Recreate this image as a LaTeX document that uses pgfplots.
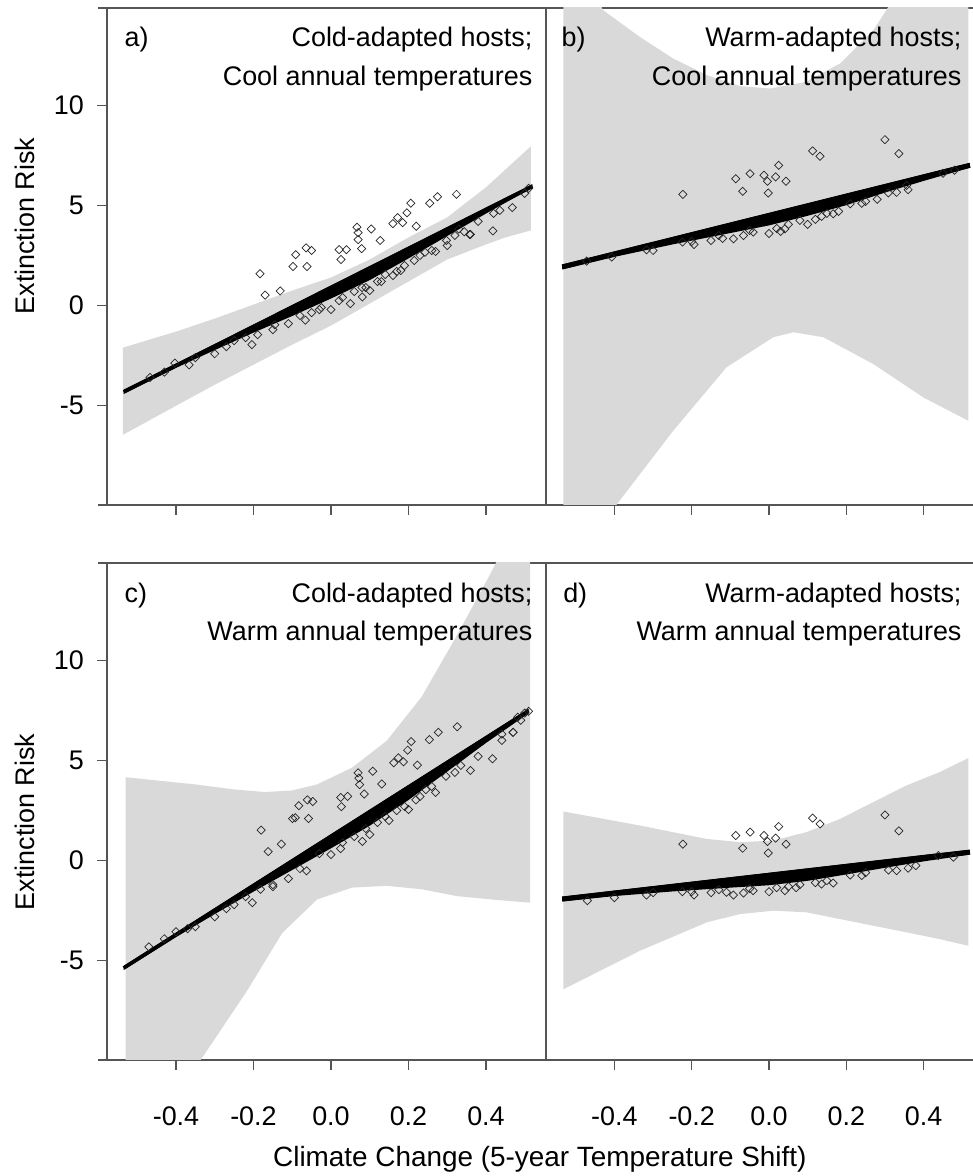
\documentclass[border=0pt]{standalone}
\usepackage{fontspec}
\setmainfont{Liberation Sans}
\usepackage{pgfplots}
\pgfplotsset{compat=1.18}
\definecolor{band}{RGB}{217,217,217}
\definecolor{axl}{RGB}{85,85,85}
\newcommand{\fs}{\fontsize{27}{32}\selectfont}
\pgfplotsset{
 panel/.style={
  scale only axis, width=439bp, height=497bp,
  xmin=-0.578, xmax=0.555, ymin=-9.95, ymax=14.85,
  axis line style={axl, line width=1.3bp},
  tick style={axl, line width=1.3bp},
  major tick length=10bp, tick align=outside,
  xtick={-0.4,-0.2,0,0.2,0.4}, xtick pos=left, ytick pos=left,
  ytick={-5,0,5,10}, yticklabels={-5,0,5,10},
  xticklabels={-0.4,-0.2,0.0,0.2,0.4},
  tick label style={font=\fs, inner sep=0pt},
  yticklabel style={anchor=east, xshift=-13bp},
  xticklabel style={anchor=north, yshift=-37bp},
  ylabel style={font=\fs},
  xlabel style={font=\fontsize{28}{33}\selectfont},
 },
 rightpanel/.style={width=430bp, xmin=-0.577, xmax=0.5356, ytick=\empty},
 toppanel/.style={xticklabels={,,,,}},
 bandst/.style={fill=band, draw=none},
 cloud/.style={fill=black, draw=none},
 fitline/.style={black, line width=3.5bp},
 pts/.style={only marks, mark=square, mark size=2.9bp,
   mark options={rotate=45, draw=black!85, line width=0.7bp, fill=none}},
}
\begin{document}
\begin{tikzpicture}[x=1bp,y=1bp]
% ---------------- a ----------------
\begin{axis}[panel, toppanel, at={(107bp,671bp)}, anchor=south west,
  ylabel={Extinction Risk}, ylabel style={at={(rel axis cs:-0.187,0.561)}, anchor=center}]
\addplot[bandst] coordinates {(-0.537,-2.1) (-0.4,-1.3) (-0.3,-0.65) (-0.2,0.05) (-0.1,0.75) (0,1.4) (0.1,2.3) (0.2,3.4) (0.3,4.4) (0.4,5.9) (0.516,7.95)
 (0.516,3.75) (0.45,3.4) (0.4,3.05) (0.3,2.3) (0.2,1.2) (0.1,0.1) (0,-1.0) (-0.1,-1.95) (-0.2,-2.95) (-0.3,-3.95) (-0.4,-5.0) (-0.537,-6.45)};
\addplot[cloud] coordinates {(-0.535,-4.2) (0.52,6.06) (0.52,5.86) (0.45,5.13) (0.4,4.59) (0.3,3.47) (0.2,2.35) (0.1,1.27) (0,0.35) (-0.1,-0.52) (-0.2,-1.35) (-0.3,-2.22) (-0.4,-3.11) (-0.535,-4.41)};
\addplot[fitline] coordinates {(-0.535,-4.306) (0.52,5.96)};
\addplot[pts] coordinates {(-0.15,-1.2) (-0.08,-0.5) (-0.03,-0.2) (0.03,0.4) (0.06,0.7) (0.12,1.2) (0.14,1.55) (0.19,2.0) (0.23,2.5) (0.26,2.75) (0.32,3.5) (0.38,4.2) (0.42,4.6) (-0.22,-1.6) (-0.27,-2.05) (-0.05,-0.35) (0.09,0.9) (0.17,1.7)};
\addplot[pts] coordinates {(-0.066,-0.73) (-0.145,-0.96) (0.021,0.25) (-0.025,-0.1) (0.081,0.43) (0.08,0.9) (0.13,1.2) (0.243,2.66) (0.215,2.25) (0.298,3.25) (0.33,3.82) (0.36,3.55) (0.418,3.73) (-0.366,-2.96) (-0.403,-2.87) (-0.467,-3.59) (-0.43,-3.32) (-0.204,-1.95) (-0.189,-1.45) (-0.11,-0.9) (0.05,0.1) (0.16,1.5) (0.27,2.7) (0.436,4.75) (0.468,4.89) (0.5,5.6) (0.51,5.85) (-0.25,-1.75) (-0.3,-2.4) (-0.35,-2.6) (0.1,0.75) (0.0,-0.2) (0.18,1.75) (0.3,3.0) (0.344,3.68) (0.358,3.55)};
\addplot[pts] coordinates {(-0.183,1.59) (-0.170,0.52) (-0.131,0.73) (-0.098,1.95) (-0.091,2.54) (-0.064,2.88) (-0.050,2.75) (-0.062,1.95) (0.021,2.79) (0.026,2.30) (0.040,2.79) (0.067,3.91) (0.070,3.64) (0.070,3.29) (0.079,2.84) (0.104,3.82) (0.127,3.25) (0.160,4.09) (0.172,4.39) (0.185,4.14) (0.196,4.63) (0.206,5.11) (0.220,3.96) (0.255,5.11) (0.275,5.43) (0.324,5.55)};
\node[font=\fs, anchor=base west] at (rel axis cs:0.032,0.9215) {a)};
\node[font=\fs, anchor=base east] at (rel axis cs:0.977,0.9215) {Cold-adapted hosts;};
\node[font=\fs, anchor=base east] at (rel axis cs:0.977,0.845) {Cool annual temperatures};
\end{axis}
% ---------------- b ----------------
\begin{axis}[panel, toppanel, rightpanel, at={(546bp,671bp)}, anchor=south west]
\addplot[bandst] coordinates {(-0.532,20) (-0.48,17) (-0.43,14.75) (-0.334,13.4) (-0.248,12.33) (-0.161,11.5) (-0.075,10.95) (0.003,10.83) (0.097,11.17) (0.184,12.08) (0.27,13.75) (0.304,14.75) (0.4,18) (0.516,21)
 (0.516,-5.75) (0.399,-4.58) (0.27,-2.92) (0.141,-1.58) (0.063,-1.33) (0.011,-1.58) (-0.11,-3.08) (-0.248,-6.25) (-0.394,-9.92) (-0.45,-12) (-0.532,-16)};
\addplot[cloud] coordinates {(-0.535,2.05) (0.52,7.12) (0.52,6.88) (0.4,6.22) (0.3,5.64) (0.2,5.01) (0.1,4.48) (0,4.0) (-0.1,3.62) (-0.25,3.05) (-0.4,2.43) (-0.535,1.81)};
\addplot[fitline, line width=5bp] coordinates {(-0.535,1.927) (0.52,7.001)};
\addplot[pts] coordinates {(-0.3,2.75) (-0.2,3.2) (-0.05,3.75) (0.05,4.05) (0.08,4.25) (0.15,4.6) (0.24,5.1) (0.33,5.65) (-0.13,3.5) (0.12,4.3) (0.02,3.85)};
\addplot[pts] coordinates {(-0.194,3.05) (-0.224,3.17) (-0.092,3.33) (-0.066,3.5) (-0.041,3.67) (0.041,3.83) (0.136,4.45) (0.166,4.58) (0.21,5.08) (-0.317,2.78) (-0.407,2.42) (-0.472,2.22) (0.309,5.62) (0.36,5.78) (0.356,6.0) (0.0,3.6) (0.03,3.7) (-0.12,3.35) (0.1,4.05) (0.25,5.2) (0.45,6.6) (0.48,6.75) (-0.15,3.25) (0.18,4.7) (0.28,5.3)};
\addplot[pts] coordinates {(-0.223,5.55) (-0.086,6.33) (-0.049,6.58) (-0.068,5.70) (-0.013,6.50) (-0.004,6.20) (0.017,6.42) (0.025,7.00) (0.044,6.20) (-0.002,5.62) (0.113,7.72) (0.132,7.45) (0.300,8.28) (0.336,7.58)};
\node[font=\fs, anchor=base west] at (rel axis cs:0.028,0.9215) {b)};
\node[font=\fs, anchor=base east] at (rel axis cs:0.9744,0.9215) {Warm-adapted hosts;};
\node[font=\fs, anchor=base east] at (rel axis cs:0.9744,0.845) {Cool annual temperatures};
\end{axis}
% ---------------- c ----------------
\begin{axis}[panel, at={(107bp,116bp)}, anchor=south west,
  ylabel={Extinction Risk}, ylabel style={at={(rel axis cs:-0.187,0.479)}, anchor=center},
  xlabel={Climate Change (5-year Temperature Shift)}, xlabel style={at={(rel axis cs:0.986,-0.2133)}, anchor=base}]
\addplot[bandst] coordinates {(-0.53,4.16) (-0.45,4.0) (-0.35,3.8) (-0.25,3.55) (-0.17,3.42) (-0.1,3.5) (-0.036,3.8) (0.054,4.63) (0.144,5.98) (0.234,8.17) (0.324,11.2) (0.414,14.4) (0.45,15.8) (0.514,18)
 (0.514,-2.1) (0.414,-1.94) (0.324,-1.77) (0.234,-1.43) (0.144,-1.26) (0.054,-1.35) (-0.036,-1.94) (-0.126,-3.62) (-0.216,-6.48) (-0.35,-10.35) (-0.45,-13) (-0.53,-16)};
\addplot[cloud] coordinates {(-0.535,-5.25) (0.51,7.58) (0.51,7.35) (0.45,6.54) (0.4,5.87) (0.3,4.44) (0.2,3.02) (0.1,1.74) (0,0.61) (-0.1,-0.47) (-0.2,-1.55) (-0.3,-2.67) (-0.4,-3.82) (-0.535,-5.46)};
\addplot[fitline] coordinates {(-0.535,-5.36) (0.51,7.473)};
\addplot[pts] coordinates {(-0.15,-1.3) (-0.08,-0.4) (-0.03,0.35) (0.03,0.9) (0.06,1.2) (0.12,1.9) (0.14,2.2) (0.19,2.7) (0.23,3.2) (0.26,3.7) (0.32,4.4) (0.38,5.2) (-0.22,-1.8) (-0.27,-2.4) (0.09,1.6) (0.17,2.5)};
\addplot[pts] coordinates {(-0.47,-4.3) (-0.43,-3.9) (-0.4,-3.55) (-0.37,-3.4) (-0.35,-3.3) (-0.3,-2.8) (-0.25,-2.2) (-0.203,-2.10) (-0.182,-1.43) (-0.15,-1.2) (-0.11,-0.9) (-0.063,-0.51) (0.0,0.3) (0.025,0.6) (0.081,0.96) (0.1,1.3) (0.15,2.0) (0.2,2.55) (0.219,3.03) (0.245,3.54) (0.27,3.4) (0.297,4.21) (0.335,4.75) (0.36,4.5) (0.417,5.08) (0.441,6.0) (0.47,6.4) (0.49,7.0) (0.51,7.45) (0.482,7.15) (0.5,7.36)};
\addplot[pts] coordinates {(-0.180,1.52) (-0.162,0.45) (-0.128,0.82) (-0.099,2.10) (-0.092,2.14) (-0.083,2.74) (-0.061,3.03) (-0.047,2.95) (-0.058,2.10) (0.025,3.15) (0.027,2.69) (0.043,3.20) (0.070,4.38) (0.072,4.12) (0.074,3.79) (0.086,3.32) (0.108,4.46) (0.131,3.82) (0.162,4.88) (0.174,5.13) (0.187,4.93) (0.198,5.51) (0.207,5.94) (0.223,4.76) (0.254,6.04) (0.277,6.40) (0.326,6.68) (0.441,6.31) (0.470,6.40)};
\node[font=\fs, anchor=base west] at (rel axis cs:0.032,0.9215) {c)};
\node[font=\fs, anchor=base east] at (rel axis cs:0.977,0.9215) {Cold-adapted hosts;};
\node[font=\fs, anchor=base east] at (rel axis cs:0.977,0.845) {Warm annual temperatures};
\end{axis}
% ---------------- d ----------------
\begin{axis}[panel, rightpanel, at={(546bp,116bp)}, anchor=south west]
\addplot[bandst] coordinates {(-0.532,2.45) (-0.334,1.75) (-0.161,1.08) (-0.075,0.92) (0.011,1.0) (0.097,1.42) (0.184,2.08) (0.27,2.92) (0.356,3.75) (0.442,4.42) (0.516,5.12)
 (0.516,-4.25) (0.442,-3.92) (0.356,-3.58) (0.27,-3.25) (0.184,-2.92) (0.097,-2.58) (0.011,-2.5) (-0.075,-2.67) (-0.161,-3.08) (-0.334,-4.5) (-0.532,-6.42)};
\addplot[cloud] coordinates {(-0.535,-1.8) (0.52,0.54) (0.52,0.30) (0.4,-0.04) (0.3,-0.36) (0.2,-0.69) (0.1,-1.01) (0,-1.23) (-0.1,-1.35) (-0.25,-1.54) (-0.4,-1.77) (-0.535,-2.04)};
\addplot[fitline, line width=5bp] coordinates {(-0.535,-1.918) (0.52,0.424)};
\addplot[pts] coordinates {(-0.3,-1.6) (-0.2,-1.55) (-0.05,-1.4) (0.05,-1.3) (0.08,-1.2) (0.15,-1.0) (0.24,-0.75) (0.33,-0.5) (-0.13,-1.45) (0.12,-1.1) (0.02,-1.35)};
\addplot[pts] coordinates {(-0.194,-1.72) (-0.224,-1.55) (-0.092,-1.72) (-0.11,-1.58) (-0.066,-1.62) (-0.041,-1.5) (0.041,-1.5) (0.136,-1.17) (0.166,-1.12) (0.21,-0.72) (-0.317,-1.72) (0.309,-0.47) (0.36,-0.38) (0.477,0.17) (0.438,0.25) (0.0,-1.55) (0.07,-1.35) (0.25,-0.6) (-0.15,-1.6) (-0.4,-1.85) (-0.47,-2.0) (0.38,-0.25)};
\addplot[pts] coordinates {(-0.223,0.82) (-0.086,1.25) (-0.049,1.42) (-0.068,0.62) (-0.013,1.25) (-0.004,0.95) (0.017,1.12) (0.025,1.70) (0.044,0.82) (-0.002,0.38) (0.113,2.12) (0.132,1.83) (0.300,2.28) (0.336,1.48)};
\node[font=\fs, anchor=base west] at (rel axis cs:0.032,0.9215) {d)};
\node[font=\fs, anchor=base east] at (rel axis cs:0.9744,0.9215) {Warm-adapted hosts;};
\node[font=\fs, anchor=base east] at (rel axis cs:0.9744,0.845) {Warm annual temperatures};
\end{axis}
% small extensions of horizontal axis lines to the left
\draw[axl, line width=1.3bp] (98,1168) -- (107,1168);
\draw[axl, line width=1.3bp] (98,671) -- (107,671);
\draw[axl, line width=1.3bp] (98,613) -- (107,613);
\draw[axl, line width=1.3bp] (98,116) -- (107,116);
\pgfresetboundingbox
\useasboundingbox (0,0) rectangle (973,1176);
\end{tikzpicture}
\end{document}
